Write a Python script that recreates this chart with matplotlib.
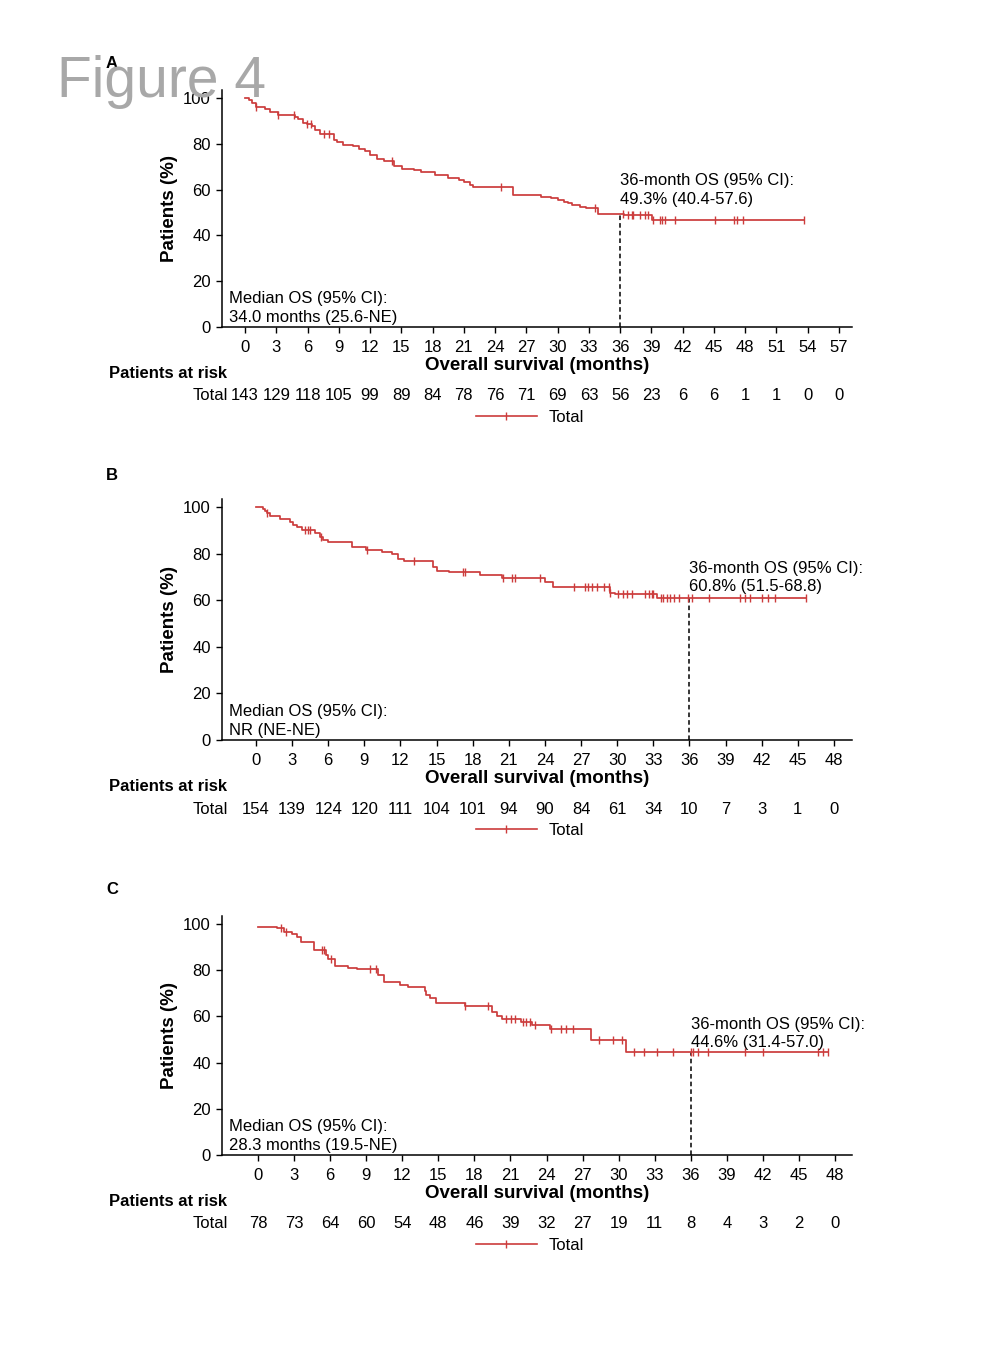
"""
Figure 4 - Kaplan-Meier overall survival, three cohorts
"""
import numpy as np
import matplotlib
matplotlib.use("Agg")
import matplotlib.pyplot as plt
from matplotlib.lines import Line2D

plt.rcParams["font.family"] = ["Liberation Sans", "DejaVu Sans"]
plt.rcParams["font.size"] = 12

W, H = 1006, 1368
RED = "#cc3c3c"

# ---- panel A ----
a_times = [0, 0.4, 0.7, 1.05, 1.9, 2.35, 3.15, 4.75, 5.1, 5.6, 5.9, 6.4, 6.7, 7.2,
           8.5, 8.8, 9.45, 10.4, 10.9, 11.5, 12.0, 12.7, 13.3, 14.3, 15.1, 16.2,
           16.9, 18.2, 19.5, 20.5, 21.0, 21.6, 21.9, 25.7, 28.4, 29.4, 30.0, 30.6,
           31.0, 31.4, 32.1, 32.7, 33.9, 36.4, 39.1]
a_surv = [100, 99.3, 97.8, 96.0, 95.0, 94.0, 92.7, 91.6, 90.7, 89.3, 88.8, 87.8, 86.0,
          84.3, 81.8, 81.0, 79.6, 78.9, 77.8, 76.7, 75.1, 73.5, 72.4, 70.2, 69.2,
          68.7, 67.7, 66.3, 65.1, 64.4, 63.3, 61.9, 61.0, 57.8, 56.9, 56.2, 55.4,
          54.7, 54.0, 53.3, 52.6, 51.9, 49.5, 49.0, 46.8]
a_cens = [1.1, 3.2, 4.7, 5.9, 6.3, 7.6, 8.1, 14.1, 24.6, 33.6, 36.3, 36.8, 37.1,
          37.2, 37.9, 38.4, 38.7, 39.2, 39.8, 40.0, 40.3, 41.3, 45.1, 46.9, 47.2,
          47.8, 53.6]
a_ticks = list(range(0, 58, 3))
a_risk = [143, 129, 118, 105, 99, 89, 84, 78, 76, 71, 69, 63, 56, 23, 6, 6, 1, 1, 0, 0]

# ---- panel B ----
b_times = [0, 0.55, 0.75, 0.9, 1.15, 2.0, 2.8, 3.1, 3.4, 3.8, 4.9, 5.3, 5.6, 6.0,
           8.0, 9.1, 10.5, 11.3, 11.8, 12.3, 14.7, 15.0, 16.0, 18.6, 20.4, 24.0,
           24.7, 29.4, 29.8, 33.3]
b_surv = [100, 99.3, 98.4, 97.4, 96.0, 94.8, 93.5, 92.3, 91.3, 90.4, 88.7, 87.2, 86.1,
          85.0, 82.9, 81.4, 80.7, 80.0, 77.8, 76.7, 74.2, 72.7, 72.0, 70.9, 69.6,
          67.7, 65.5, 63.3, 62.6, 60.8]
b_cens = [0.9, 4.1, 4.3, 4.5, 5.4, 9.2, 13.1, 17.2, 17.4, 20.5, 21.3, 21.5, 23.6,
          26.4, 27.3, 27.6, 27.9, 28.3, 28.9, 29.3, 29.4, 30.1, 30.5, 30.8, 31.2,
          32.3, 32.6, 32.9, 33.0, 33.6, 33.8, 34.1, 34.4, 34.7, 35.1, 35.9, 36.2,
          37.6, 40.2, 40.6, 41.0, 42.0, 42.5, 43.1, 45.7]
b_ticks = list(range(0, 49, 3))
b_risk = [154, 139, 124, 120, 111, 104, 101, 94, 90, 84, 61, 34, 10, 7, 3, 1, 0]

# ---- panel C ----
c_times = [0, 1.6, 2.2, 2.8, 3.25, 3.6, 4.7, 5.7, 5.85, 6.4, 7.5, 8.2, 10.0, 10.5,
           11.8, 12.5, 13.85, 14.0, 14.3, 14.8, 17.2, 19.5, 19.9, 20.3, 21.9, 22.8,
           24.3, 27.7, 30.6]
c_surv = [98.7, 98.1, 96.6, 95.5, 94.4, 92.4, 88.6, 86.4, 84.9, 82.0, 81.0, 80.5, 77.9,
          75.0, 73.8, 72.8, 71.0, 69.5, 68.1, 65.9, 64.5, 62.1, 60.0, 58.9, 57.8,
          56.2, 54.6, 49.7, 44.6]
c_cens = [1.9, 2.35, 5.3, 5.5, 6.1, 9.3, 9.8, 17.2, 19.1, 20.65, 21.07, 21.34, 22.03,
          22.3, 22.6, 23.0, 24.4, 25.2, 25.6, 26.2, 28.4, 29.5, 30.3, 31.3, 32.1,
          33.2, 34.5, 36.0, 36.2, 36.6, 37.4, 40.5, 42.0, 46.6, 47.0, 47.4]
c_ticks = list(range(0, 49, 3))
c_risk = [78, 73, 64, 60, 54, 48, 46, 39, 32, 27, 19, 11, 8, 4, 3, 2, 0]

panel_letters = ["A", "B", "C"]
median_texts = ["Median OS (95% CI):\n34.0 months (25.6-NE)",
                "Median OS (95% CI):\nNR (NE-NE)",
                "Median OS (95% CI):\n28.3 months (19.5-NE)"]
os36_texts = ["36-month OS (95% CI):\n49.3% (40.4-57.6)",
              "36-month OS (95% CI):\n60.8% (51.5-68.8)",
              "36-month OS (95% CI):\n44.6% (31.4-57.0)"]


def pt(px):
    return px * 72.0 / 100


def surv_at(times, surv, t):
    i = np.searchsorted(times, t, side="right") - 1
    return np.asarray(surv)[i]


def draw_km(fig, rect_px, xlim, letter_y, times, surv, cens, ticks, risk, letter,
            med_txt, os_txt, os_y):
    left, top, right, bottom = rect_px
    ax = fig.add_axes([left / W, 1 - bottom / H, (right - left) / W, (bottom - top) / H])

    t_end = max(cens[-1], times[-1])
    ax.step(list(times) + [t_end], list(surv) + [surv[-1]], where="post",
            color=RED, lw=1.25, zorder=3)
    ax.plot(cens, surv_at(times, surv, cens), ls="none", marker="|",
            ms=5.5, mew=1.0, color=RED, zorder=3)

    s36 = surv_at(times, surv, 36)
    ax.plot([36, 36], [0, s36], color="black", ls=(0, (3, 2)), lw=1.1, zorder=2)

    ax.set_xlim(*xlim)
    ax.set_ylim(0, 103.5)
    ax.set_xticks(ticks)
    ax.set_yticks(range(0, 101, 20))
    for s in ["top", "right"]:
        ax.spines[s].set_visible(False)
    for s in ["left", "bottom"]:
        ax.spines[s].set_linewidth(1.1)
    ax.tick_params(axis="both", direction="out", length=4.5, width=1.0, labelsize=12)
    ax.tick_params(axis="x", pad=4.5)
    ax.tick_params(axis="y", pad=3.5)
    ax.set_xlabel("Overall survival (months)", fontsize=13.5, fontweight="bold", labelpad=2)
    ax.set_ylabel("Patients (%)", fontsize=13.5, fontweight="bold", labelpad=4)

    ax.text(7 / (right - left), 0.008, med_txt, transform=ax.transAxes,
            ha="left", va="bottom", fontsize=12, linespacing=1.35)
    ax.text(36, os_y, os_txt, ha="left", va="bottom", fontsize=12, linespacing=1.28)

    # patients at risk table
    for t, n in zip(ticks, risk):
        ax.annotate(str(n), xy=(t, 0), xycoords=("data", "axes fraction"),
                    xytext=(0, -pt(69)), textcoords="offset points",
                    ha="center", va="center", fontsize=12, annotation_clip=False)
    fig.text(109 / W, 1 - (bottom + 46.5) / H, "Patients at risk", fontsize=12,
             fontweight="bold", ha="left", va="center")
    fig.text(228 / W, 1 - (bottom + 69) / H, "Total", fontsize=12,
             ha="right", va="center")

    handle = Line2D([], [], color=RED, lw=1.2, marker="|", ms=6, mew=1.0)
    ax.legend([handle], ["Total"], loc="center",
              bbox_to_anchor=((530 - left) / (right - left), -90.5 / (bottom - top)),
              frameon=False, fontsize=12, handlelength=3.7, handletextpad=0.7,
              borderpad=0, borderaxespad=0)

    fig.text(106 / W, 1 - letter_y / H, letter, fontsize=12, fontweight="bold",
             ha="left", va="center")
    return ax


fig = plt.figure(figsize=(W / 100, H / 100), dpi=100)

draw_km(fig, (222, 90, 852, 327), (-2.21, 58.25), 63, a_times, a_surv, a_cens,
        a_ticks, a_risk, panel_letters[0], median_texts[0], os36_texts[0], 52.5)
draw_km(fig, (222, 499, 852, 740), (-2.82, 49.5), 475, b_times, b_surv, b_cens,
        b_ticks, b_risk, panel_letters[1], median_texts[1], os36_texts[1], 62.5)
draw_km(fig, (222, 916, 852, 1155), (-2.99, 49.4), 890, c_times, c_surv, c_cens,
        c_ticks, c_risk, panel_letters[2], median_texts[2], os36_texts[2], 45.3)

fig.text(57 / W, 1 - 97 / H, "Figure 4", fontsize=41, color="#a8a8a8",
         ha="left", va="baseline", zorder=10)

fig.savefig("out.png", dpi=100)
